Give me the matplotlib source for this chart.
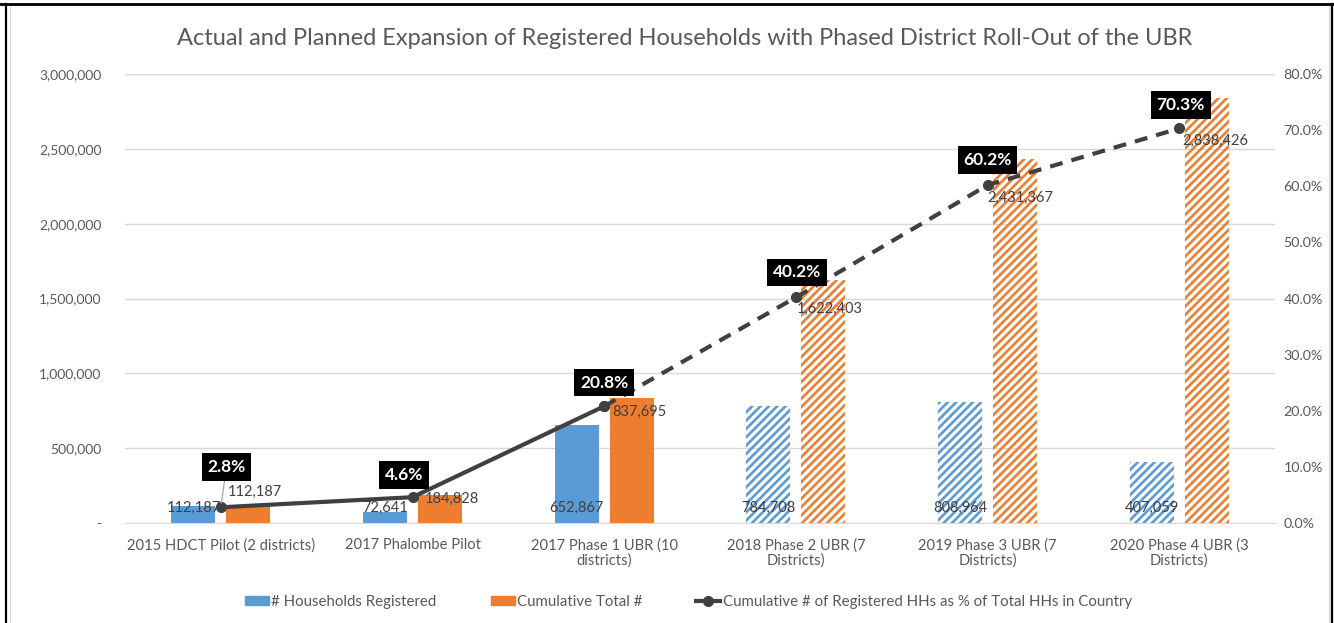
import matplotlib
matplotlib.use('Agg')
import matplotlib.pyplot as plt
import numpy as np
from matplotlib.patches import Patch, Rectangle
from matplotlib.lines import Line2D

plt.rcParams['font.family'] = ['Lato', 'DejaVu Sans']
plt.rcParams['hatch.linewidth'] = 1.9

categories = ['2015 HDCT Pilot (2 districts)', '2017 Phalombe Pilot',
              '2017 Phase 1 UBR (10\ndistricts)', '2018 Phase 2 UBR (7\nDistricts)',
              '2019 Phase 3 UBR (7\nDistricts)', '2020 Phase 4 UBR (3\nDistricts)']
households = [112187, 72641, 652867, 784708, 808964, 407059]
cumulative = [112187, 184828, 837695, 1622403, 2431367, 2838426]
pct_of_total = [2.8, 4.6, 20.8, 40.2, 60.2, 70.3]
n_actual = 3  # first three are actual, rest are planned

BLUE = '#5B9BD5'
ORANGE = '#ED7D31'
LINE = '#404040'
GREY = '#595959'

# label offsets in points (layout only)
pct_offsets = [(4, 29), (-6, 16), (0, 17), (1, 18), (0, 18), (1, 17)]
cum_offsets = [(5, 11), (9, -1), (6, -4), (1, -8), (0, -9), (2, -9)]


def main():
    fig = plt.figure(figsize=(13.34, 6.23), dpi=100)
    ax = fig.add_axes([0.0937, 0.1605, 0.8621, 0.7207])
    ax2 = ax.twinx()

    x = np.arange(len(categories))
    w = 0.23
    off = 0.143
    for i in range(len(categories)):
        if i < n_actual:
            ax.bar(x[i] - off, households[i], w, color=BLUE, zorder=2)
            ax.bar(x[i] + off, cumulative[i], w, color=ORANGE, zorder=2)
        else:
            ax.bar(x[i] - off, households[i], w, facecolor='none', edgecolor=BLUE,
                   hatch='////', linewidth=0, zorder=2)
            ax.bar(x[i] + off, cumulative[i], w, facecolor='none', edgecolor=ORANGE,
                   hatch='////', linewidth=0, zorder=2)
        ax.annotate(f'{households[i]:,}', (x[i] - off, 0), xytext=(0, 11),
                    textcoords='offset points', ha='center', va='center',
                    fontsize=10.5, color=LINE, zorder=5)

    ax.set_xlim(-0.5, len(categories) - 0.5)
    ax.set_ylim(0, 3000000)
    ax.set_yticks(np.arange(0, 3000001, 500000))
    ax.set_yticklabels(['-'] + [f'{v:,}' for v in range(500000, 3000001, 500000)])
    ax.yaxis.grid(True, color='#D9D9D9', linewidth=1)
    ax.set_axisbelow(True)
    ax.set_xticks(x)
    ax.set_xticklabels(categories, fontsize=10.6, color=GREY, linespacing=1.1)
    ax.tick_params(axis='y', length=0, pad=17, labelsize=10, labelcolor=GREY)
    ax.tick_params(axis='x', length=0, pad=11)
    for s in ['top', 'right', 'left']:
        ax.spines[s].set_visible(False)
    ax.spines['bottom'].set_color('#D9D9D9')

    # line: solid for actual, dashed for planned
    ax2.plot(x[:n_actual], pct_of_total[:n_actual], color=LINE, lw=3,
             marker='o', markersize=7, zorder=4)
    ax2.plot(x[n_actual - 1:], pct_of_total[n_actual - 1:], color=LINE, lw=3,
             marker='o', markersize=7, dashes=(3.1, 2.2), dash_capstyle='butt', zorder=4)
    ax2.set_ylim(0, 80)
    ax2.set_yticks(np.arange(0, 81, 10))
    ax2.set_yticklabels([f'{v:.1f}%' for v in range(0, 81, 10)])
    ax2.tick_params(axis='y', length=0, pad=6, labelsize=10.3, labelcolor=GREY)
    for s in ax2.spines.values():
        s.set_visible(False)

    for i, p in enumerate(pct_of_total):
        arrow = dict(arrowstyle='-', color='#A6A6A6', lw=0.9, shrinkA=0, shrinkB=3) if i == 0 else None
        ax2.annotate(f'{p:.1f}%', (x[i], p), xytext=pct_offsets[i], textcoords='offset points',
                     ha='center', va='center', fontsize=12.5, fontweight='bold', color='white',
                     bbox=dict(boxstyle='square,pad=0.33', fc='black', ec='none'),
                     arrowprops=arrow, zorder=6)
        ax2.annotate(f'{cumulative[i]:,}', (x[i], p), xytext=cum_offsets[i],
                     textcoords='offset points', ha='left', va='center',
                     fontsize=10.5, color=LINE, zorder=5)

    fig.text(0.513, 0.939, 'Actual and Planned Expansion of Registered Households with '
             'Phased District Roll-Out of the UBR', ha='center', va='center',
             fontsize=17, color=GREY)

    handles = [Patch(color=BLUE), Patch(color=ORANGE),
               Line2D([], [], color=LINE, lw=3, marker='o', markersize=7)]
    labels = ['# Households Registered', 'Cumulative Total #',
              'Cumulative # of Registered HHs as % of Total HHs in Country']
    leg = fig.legend(handles, labels, loc='center', bbox_to_anchor=(0.516, 0.034), ncol=3,
                     frameon=False, fontsize=10.8, handlelength=1.6, handleheight=0.6,
                     handletextpad=0.15, columnspacing=3.6)
    for t in leg.get_texts():
        t.set_color(GREY)

    # document frame around the chart
    fig.add_artist(Rectangle((0.0075, -0.05), 0.989, 1.042, transform=fig.transFigure,
                             fill=False, ec='#D9D9D9', lw=0.8))
    fig.add_artist(Line2D([0, 1], [0.993, 0.993], transform=fig.transFigure, color='black', lw=2))
    fig.add_artist(Line2D([0.0042, 0.0042], [0, 0.993], transform=fig.transFigure, color='black', lw=1.6))
    fig.add_artist(Line2D([0.9982, 0.9982], [0, 0.993], transform=fig.transFigure, color='black', lw=1.6))

    fig.savefig('out.png', dpi=100)


if __name__ == '__main__':
    main()
